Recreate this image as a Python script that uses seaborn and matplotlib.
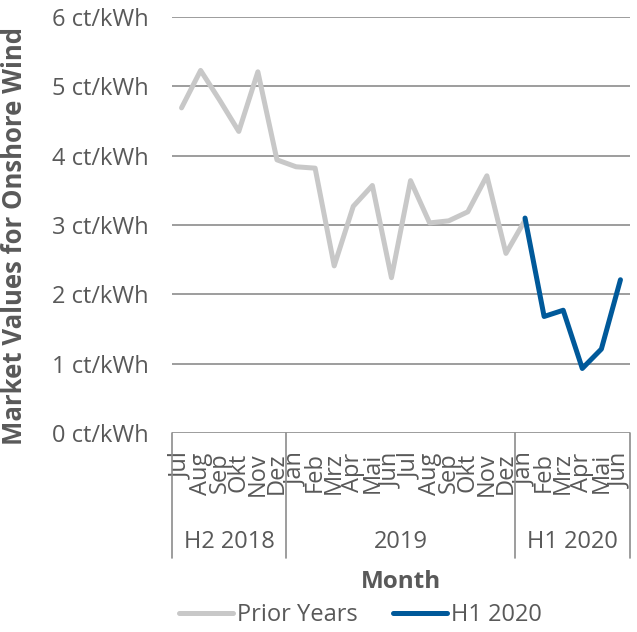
import matplotlib
matplotlib.use("Agg")
import matplotlib.pyplot as plt
import matplotlib.transforms as mtransforms
import pandas as pd
import seaborn as sns

sns.set_style("white")
plt.rcParams['font.family'] = ['Open Sans', 'DejaVu Sans']

TEXT = "#595959"
GRID = "#8c8c8c"
GREY = "#c8c8c8"
BLUE = "#00599a"

# data
months = ["Jul", "Aug", "Sep", "Okt", "Nov", "Dez",
          "Jan", "Feb", "Mrz", "Apr", "Mai", "Jun",
          "Jul", "Aug", "Sep", "Okt", "Nov", "Dez",
          "Jan", "Feb", "Mrz", "Apr", "Mai", "Jun"]
groups = ["H2 2018", "2019", "H1 2020"]
group_sizes = [6, 12, 6]
prior_years = [4.69, 5.23, 4.80, 4.35, 5.21, 3.94,
               3.84, 3.82, 2.41, 3.27, 3.57, 2.24,
               3.64, 3.03, 3.06, 3.19, 3.71, 2.59,
               3.07]
h1_2020 = [3.10, 1.68, 1.77, 0.93, 1.21, 2.21]

prior_df = pd.DataFrame({"idx": range(len(prior_years)), "value": prior_years})
h1_df = pd.DataFrame({"idx": range(18, 18 + len(h1_2020)), "value": h1_2020})

fig = plt.figure(figsize=(6.37, 6.32), dpi=100)
ax = fig.add_axes([0.270, 0.315, 0.719, 0.658])

sns.lineplot(data=prior_df, x="idx", y="value", ax=ax, color=GREY,
             linewidth=3.6, label="Prior Years")
sns.lineplot(data=h1_df, x="idx", y="value", ax=ax, color=BLUE,
             linewidth=3.6, label="H1 2020")
ax.get_legend().remove()

ax.set_xlim(-0.5, len(months) - 0.5)
ax.set_ylim(0, 6)
ax.set_yticks(range(7))
ax.set_yticklabels([f"{v} ct/kWh" for v in range(7)])
ax.yaxis.grid(True, color=GRID, linewidth=1.2)
ax.set_axisbelow(True)
for s in ax.spines.values():
    s.set_visible(False)

ax.set_xticks(range(len(months)))
ax.set_xticklabels(months, rotation=90)
ax.tick_params(axis="x", length=0, pad=14, labelsize=17, labelcolor=TEXT)
ax.tick_params(axis="y", length=0, pad=17, labelsize=17, labelcolor=TEXT)

ax.set_xlabel("")
ax.set_ylabel("Market Values for Onshore Wind", fontsize=18.5,
              fontweight="bold", color=TEXT)
ax.yaxis.set_label_coords(-0.314, 0.473)

# multi-level category axis
trans = mtransforms.blended_transform_factory(ax.transData, ax.transAxes)
edges = [-0.5]
for n in group_sizes:
    edges.append(edges[-1] + n)
for e in edges:
    ax.plot([e, e], [0, -0.30], transform=trans, color=GRID, lw=1.2,
            clip_on=False)
for g, lo, hi in zip(groups, edges[:-1], edges[1:]):
    ax.text((lo + hi) / 2, -0.262, g, transform=trans, ha="center",
            va="center", fontsize=17, color=TEXT)

ax.text(0.5, -0.358, "Month", transform=ax.transAxes, ha="center",
        va="center", fontsize=17.5, fontweight="bold", color=TEXT)

handles, labels = ax.get_legend_handles_labels()
leg = fig.legend(handles, labels, loc="center", bbox_to_anchor=(0.566, 0.027),
                 ncol=2, frameon=False, fontsize=17, handlelength=2.3,
                 handletextpad=0.15, columnspacing=1.5)
for t in leg.get_texts():
    t.set_color(TEXT)

fig.savefig("out.png", dpi=100)
plt.close(fig)
